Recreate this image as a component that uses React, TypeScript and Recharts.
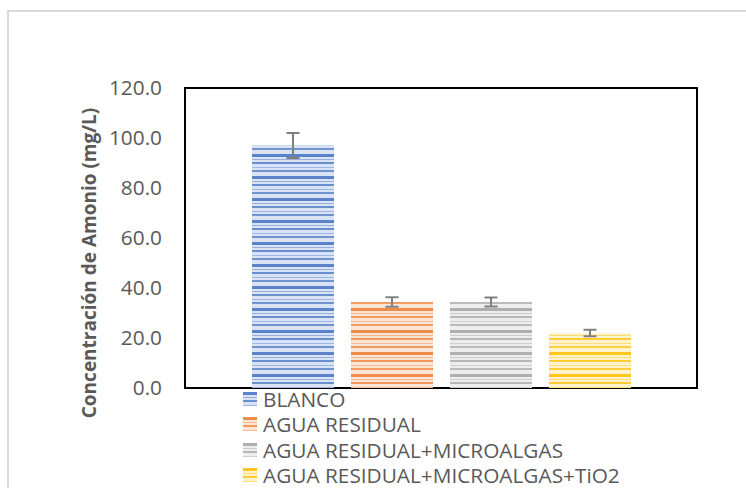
import { BarChart, Bar, XAxis, YAxis, ErrorBar, ReferenceArea, Label } from "recharts"

const seriesNames = ["BLANCO", "AGUA RESIDUAL", "AGUA RESIDUAL+MICROALGAS", "AGUA RESIDUAL+MICROALGAS+TiO2"]
const seriesValues = [97.0, 34.4, 34.4, 22.0]
const seriesErrors = [5.0, 1.9, 1.8, 1.3]
const yTicks = [0, 20, 40, 60, 80, 100, 120]

const darkColors = ["#4472c4", "#ed7d31", "#a5a5a5", "#ffc000"]
const lightColors = ["#dae3f3", "#fbe5d6", "#ededed", "#fff2cc"]

const row: Record<string, number | string> = { name: "" }
seriesNames.forEach((_, i) => {
  row["s" + i] = seriesValues[i]
  row["e" + i] = seriesErrors[i]
})
const data = [row]

const font = "'Open Sans', sans-serif"

function Stripes({ id, dark, light }: { id: string; dark: string; light: string }) {
  return (
    <pattern id={id} patternUnits="userSpaceOnUse" width={10} height={22}>
      <rect x={0} y={0} width={10} height={22} fill={light} />
      <rect x={0} y={0} width={10} height={3} fill={dark} opacity={0.85} />
      <rect x={0} y={5} width={10} height={1} fill={dark} opacity={0.45} />
      <rect x={0} y={8} width={10} height={2} fill={dark} opacity={0.75} />
      <rect x={0} y={13} width={10} height={1} fill={dark} opacity={0.4} />
      <rect x={0} y={16} width={10} height={2} fill={dark} opacity={0.7} />
    </pattern>
  )
}

function LegendBox() {
  return (
    <div style={{ position: "absolute", left: 243, top: 386, fontFamily: font, fontSize: 20.8, color: "#595959" }}>
      {seriesNames.map((n, i) => (
        <div key={n} style={{ display: "flex", alignItems: "center", height: 25.5, whiteSpace: "nowrap" }}>
          <svg width={14} height={14} style={{ marginRight: 6 }}>
            <rect width={14} height={14} fill={`url(#stripe${i})`} />
          </svg>
          <span>{n}</span>
        </div>
      ))}
    </div>
  )
}

export default function App() {
  return (
    <div style={{ position: "absolute", left: 0, top: 0, width: 746, height: 488, background: "#fff", overflow: "hidden" }}>
      <div style={{ position: "absolute", left: 7, top: 10, width: 760, height: 500, border: "2px solid #d9d9d9" }} />
      <BarChart
        width={746}
        height={488}
        data={data}
        margin={{ top: 88, right: 49, left: 110, bottom: 100 }}
        barSize={82}
        barGap={17}
        style={{ position: "absolute", left: 0, top: 0 }}
      >
        <defs>
          {darkColors.map((c, i) => (
            <Stripes key={i} id={`stripe${i}`} dark={c} light={lightColors[i]} />
          ))}
        </defs>
        <XAxis dataKey="name" tick={false} tickLine={false} axisLine={{ stroke: "#000", strokeWidth: 2 }} height={0} />
        <YAxis
          width={75}
          domain={[0, 120]}
          ticks={yTicks}
          tickFormatter={(v: number) => v.toFixed(1)}
          axisLine={false}
          tickLine={false}
          tickSize={0}
          tickMargin={23}
          tick={{ fill: "#595959", fontSize: 20.8, fontFamily: font }}
        >
          <Label
            content={() => (
              <text
                transform="translate(89,263) rotate(-90)"
                textAnchor="middle"
                dominantBaseline="central"
                fill="#595959"
                fontSize={19}
                fontWeight="bold"
                fontFamily={font}
              >
                Concentración de Amonio (mg/L)
              </text>
            )}
          />
        </YAxis>
        {seriesNames.map((n, i) => (
          <Bar key={n} dataKey={"s" + i} name={n} fill={`url(#stripe${i})`} isAnimationActive={false}>
            <ErrorBar dataKey={"e" + i} width={6.5} stroke="#7f7f7f" strokeWidth={2} direction="y" />
          </Bar>
        ))}
        <ReferenceArea y1={0} y2={120} fill="none" stroke="#000" strokeWidth={2} ifOverflow="visible" />
      </BarChart>
      <LegendBox />
    </div>
  )
}
